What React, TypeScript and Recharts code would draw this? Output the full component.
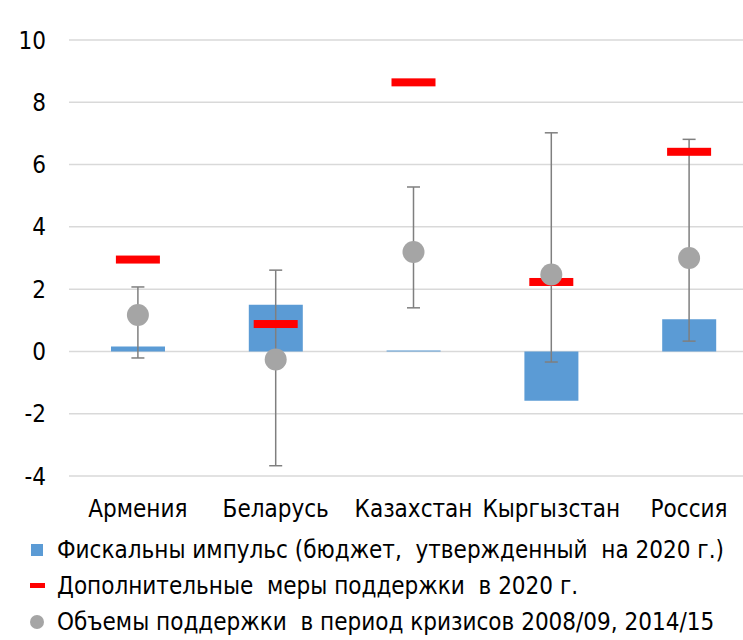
import React from 'react';
import { ComposedChart, Bar, Scatter, ErrorBar, XAxis, YAxis, CartesianGrid } from 'recharts';

const countries = ['Армения', 'Беларусь', 'Казахстан', 'Кыргызстан', 'Россия'];
const fiscalImpulse = [0.16, 1.5, 0.03, -1.58, 1.03];
const additionalMeasures = [2.95, 0.88, 8.64, 2.23, 6.41];
const crisisSupport = [1.17, -0.26, 3.19, 2.47, 3.0];
const crisisLow = [-0.21, -3.67, 1.4, -0.34, 0.33];
const crisisHigh = [2.07, 2.61, 5.28, 7.02, 6.81];
const yTicks = [-4, -2, 0, 2, 4, 6, 8, 10];
const legendLabels = [
  'Фискальны импульс (бюджет,  утвержденный  на 2020 г.)',
  'Дополнительные  меры поддержки  в 2020 г.',
  'Объемы поддержки  в период кризисов 2008/09, 2014/15',
];

const data = countries.map((name, i) => ({
  name,
  fiscal: fiscalImpulse[i],
  extra: additionalMeasures[i],
  crisis: crisisSupport[i],
  err: [crisisSupport[i] - crisisLow[i], crisisHigh[i] - crisisSupport[i]],
}));

const FONT = "'Liberation Sans Narrow', 'DejaVu Sans Condensed', Roboto, sans-serif";

const RedDash = (p: any) => (
  <rect x={p.cx - 22} y={p.cy - 4} width={44} height={8} fill="#FF0000" />
);
const GreyDot = (p: any) => <circle cx={p.cx} cy={p.cy} r={11} fill="#A5A5A5" />;

export default function App() {
  return (
    <div style={{ position: 'absolute', left: 0, top: 0, width: 743, height: 640, overflow: 'hidden', background: '#fff' }}>
      <ComposedChart
        width={760}
        height={640}
        data={data}
        margin={{ top: 40, right: 2, left: 9, bottom: 134 }}
      >
        <CartesianGrid horizontal vertical={false} stroke="#D9D9D9" strokeWidth={1.5} />
        <XAxis
          dataKey="name"
          axisLine={false}
          tickLine={false}
          tickSize={0}
          tickMargin={24}
          height={30}
          interval={0}
          tick={{ fill: '#000', fontSize: 24, fontFamily: FONT }}
        />
        <YAxis
          width={60}
          domain={[-4, 10]}
          ticks={yTicks}
          axisLine={false}
          tickLine={false}
          tickSize={0}
          tickMargin={23}
          tick={{ fill: '#000', fontSize: 24, fontFamily: FONT }}
        />
        <Bar dataKey="fiscal" fill="#5B9BD5" barSize={54} isAnimationActive={false} />
        <Scatter dataKey="extra" shape={RedDash} isAnimationActive={false} />
        <Scatter dataKey="crisis" shape={GreyDot} isAnimationActive={false}>
          <ErrorBar dataKey="err" direction="y" width={6.5} stroke="#7F7F7F" strokeWidth={1.5} />
        </Scatter>
      </ComposedChart>
      <div style={{ position: 'absolute', left: 0, top: 532, fontFamily: FONT, fontSize: 24, color: '#000' }}>
        {legendLabels.map((label, i) => (
          <div key={i} style={{ position: 'absolute', left: 0, top: i * 36, height: 36, width: 743, whiteSpace: 'pre' }}>
            <svg width={50} height={36} style={{ position: 'absolute', left: 0, top: 0 }}>
              {i === 0 && <rect x={31} y={12} width={12} height={12} fill="#5B9BD5" />}
              {i === 1 && <rect x={30} y={15} width={15} height={5} fill="#FF0000" />}
              {i === 2 && <circle cx={37} cy={18} r={7} fill="#A5A5A5" />}
            </svg>
            <span style={{ position: 'absolute', left: 57, top: 3, lineHeight: '30px' }}>{label}</span>
          </div>
        ))}
      </div>
    </div>
  );
}
